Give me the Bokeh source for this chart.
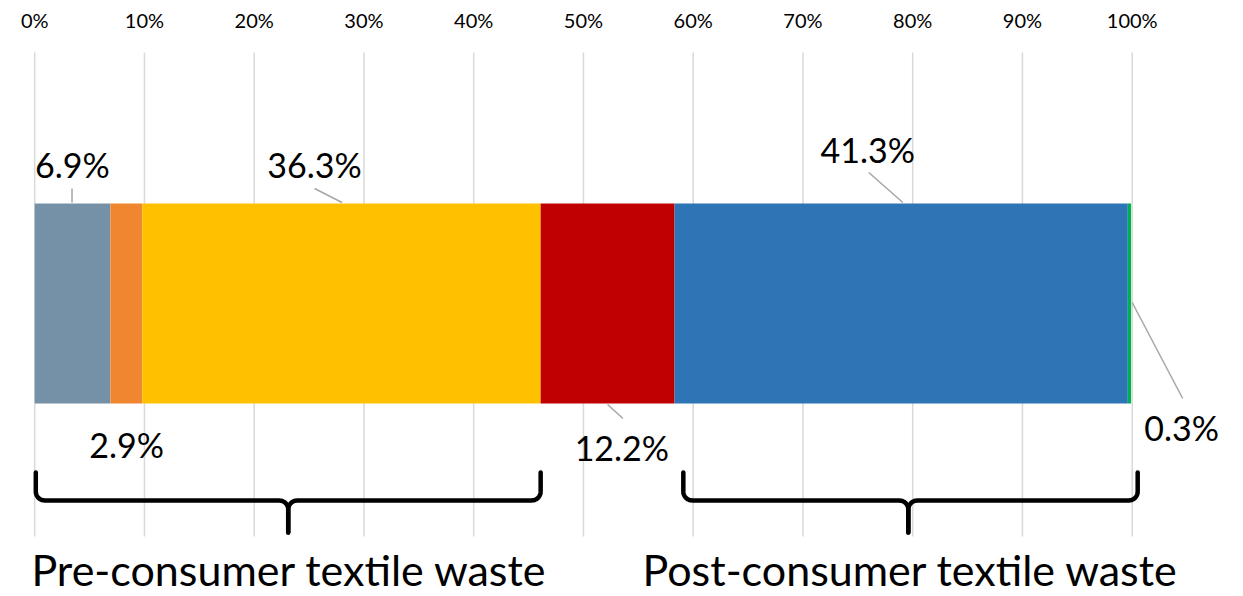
import numpy as np
from bokeh.plotting import figure
from bokeh.models import Range1d, ColumnDataSource
from bokeh.core.properties import value
from bokeh.embed import file_html
from bokeh.resources import INLINE

# ---- data ----
segments = ["Pre-consumer A", "Pre-consumer B", "Pre-consumer C", "Pre-consumer D", "Post-consumer A", "Post-consumer B"]
shares = [6.9, 2.9, 36.3, 12.2, 41.3, 0.3]
share_labels = ["6.9%", "2.9%", "36.3%", "12.2%", "41.3%", "0.3%"]
colors = ["#7491A8", "#F0862F", "#FFC000", "#C00000", "#2E75B6", "#00B050"]
ticks = [0, 10, 20, 30, 40, 50, 60, 70, 80, 90, 100]
tick_labels = [f"{t}%" for t in ticks]
group_names = ["Pre-consumer textile waste", "Post-consumer textile waste"]

FONT = "Lato"
W, H = 1243, 596
PX_PER_UNIT = 10.975
X0 = 34.2  # pixel of 0%

p = figure(width=W, height=H, output_backend="svg", toolbar_location=None,
           x_range=Range1d(-X0 / PX_PER_UNIT, (W - X0) / PX_PER_UNIT),
           y_range=Range1d(H, 0),
           min_border=0, min_border_left=0, min_border_right=0,
           min_border_top=0, min_border_bottom=0)
p.axis.visible = False
p.grid.visible = False
p.outline_line_color = None
p.background_fill_color = "white"
p.border_fill_color = "white"

# gridlines
p.segment(x0=ticks, y0=[52] * len(ticks), x1=ticks, y1=[536] * len(ticks),
          line_color="#D9D9D9", line_width=1.5)
# tick labels
p.text(x=ticks, y=[19] * len(ticks), text=tick_labels, text_font=value(FONT),
       text_font_size="20px", text_align="center", text_baseline="middle", text_color="#000000")

# stacked bar
rights = list(np.cumsum(shares))
lefts = [0] + rights[:-1]
src = ColumnDataSource(dict(left=lefts, right=rights, color=colors, seg=segments))
p.hbar(y=303, height=200, left="left", right="right", fill_color="color",
       line_color=None, source=src)

# labels and leader lines (positions in % units / pixel rows)
lab_x = [3.44, 8.37, 25.5, 53.5, 75.9, 104.5]
lab_y = [164, 444, 164, 447, 149, 427]
p.text(x=lab_x, y=lab_y, text=share_labels, text_font=value(FONT), text_font_size="34px",
       text_align="center", text_baseline="middle", text_color="#000000")
lx0 = [3.4, 25.5, 52.2, 76.0, 100.0]
ly0 = [188, 188, 404, 172, 302]
lx1 = [3.4, 28.0, 53.6, 79.1, 104.6]
ly1 = [202, 202, 418, 202, 398]
p.segment(x0=lx0, y0=ly0, x1=lx1, y1=ly1, line_color="#A6A6A6", line_width=1.5)


# curly brackets
def bracket(xl, xr, xm, y0=472, y1=500, y2=532, r=9):
    rx = r / PX_PER_UNIT
    t = np.linspace(0, np.pi / 2, 10)
    xs = [xl]; ys = [y0]
    xs += list(xl + rx - rx * np.cos(t)); ys += list(y1 - r + r * np.sin(t))
    xs += list(xm - rx + rx * np.sin(t)); ys += list(y1 + r - r * np.cos(t))
    xs += [xm]; ys += [y2]
    xs2 = [xr]; ys2 = [y0]
    xs2 += list(xr - rx + rx * np.cos(t)); ys2 += list(y1 - r + r * np.sin(t))
    xs2 += list(xm + rx - rx * np.sin(t)); ys2 += list(y1 + r - r * np.cos(t))
    xs2 += [xm]; ys2 += [y2]
    return [xs, xs2], [ys, ys2]

bxs, bys = [], []
for (xl, xr, xm) in [(0.1, 46.1, 23.1), (59.1, 100.5, 79.6)]:
    a, b = bracket(xl, xr, xm)
    bxs += a; bys += b
p.multi_line(xs=bxs, ys=bys, line_color="#000000", line_width=4.5,
             line_cap="round", line_join="round")

# group labels
p.text(x=[23.2, 79.8], y=[569, 569], text=group_names, text_font=value(FONT),
       text_font_size="43px", text_align="center", text_baseline="middle", text_color="#000000")

open("out.html", "w").write(file_html(p, INLINE))
